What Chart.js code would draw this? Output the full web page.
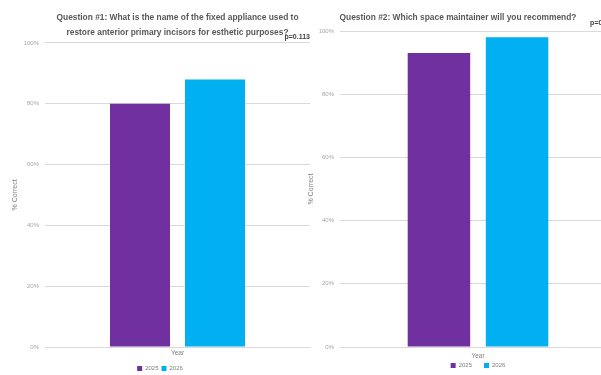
<!DOCTYPE html>
<html>
<head>
<meta charset="utf-8">
<script src="https://cdn.jsdelivr.net/npm/chart.js@4"></script>
<style>
  html, body { margin: 0; padding: 0; background: #fff; overflow: hidden; }
  body { width: 601px; height: 375px; position: relative; }
  .box { position: absolute; top: 0; height: 375px; }
  #leftBox { left: 0; width: 320px; }
  #rightBox { left: 300px; width: 320px; }
</style>
</head>
<body>
<div class="box" id="leftBox"><canvas id="q1Chart"></canvas></div>
<div class="box" id="rightBox"><canvas id="q2Chart"></canvas></div>
<script>
// data
var years = ["2025", "2026"];
var categories = [""];
var q1Values = [80, 88];
var q2Values = [93, 98];
var yTicks = [0, 20, 40, 60, 80, 100];

var q1Title = ["Question #1: What is the name of the fixed appliance used to",
               "restore anterior primary incisors for esthetic purposes?"];
var q2Title = "Question #2: Which space maintainer will you recommend?";
var q1P = "p=0.113";
var q2P = "p=0.155";

var colors = ["#7030A0", "#00B0F0"];
var fontFam = "'Liberation Sans', Arial, sans-serif";

function makeData(values) {
    return {
        labels: categories,
        datasets: years.map(function (y, i) {
            return {
                label: y,
                data: [values[i]],
                backgroundColor: colors[i],
                borderWidth: 0,
                barPercentage: 0.8,
                categoryPercentage: 0.566
            };
        })
    };
}

function makeOptions(o) {
    return {
        responsive: true,
        maintainAspectRatio: false,
        animation: false,
        devicePixelRatio: 1,
        layout: { padding: { left: o.padLeft, right: o.padRight, top: 0, bottom: o.padBottom } },
        scales: {
            x: {
                grid: { display: false },
                border: { color: "#d9d9d9", width: 1 },
                ticks: { display: false },
                title: { display: true, text: "Year", color: "#7f7f7f", font: { family: fontFam, size: 6.5 }, padding: { top: 0, bottom: o.yearPad } },
                afterFit: function (scale) { scale.height = o.xHeight; }
            },
            y: {
                min: 0,
                max: 100,
                afterBuildTicks: function (scale) {
                    scale.ticks = yTicks.map(function (v) { return { value: v }; });
                },
                grid: { color: "#d9d9d9", drawTicks: false },
                border: { display: false },
                ticks: {
                    color: "#a6a6a6",
                    font: { family: fontFam, size: 6 },
                    padding: 6,
                    callback: function (v) { return v + "%"; }
                },
                title: { display: true, text: "% Correct", color: "#7f7f7f", font: { family: fontFam, size: 7 }, padding: { top: o.corrPad, bottom: 0 } },
                afterFit: function (scale) { scale.width = o.yWidth; }
            }
        },
        plugins: {
            title: {
                display: true,
                text: o.title,
                fullSize: o.titleFull,
                color: "#595959",
                font: { family: fontFam, size: 8.4, weight: "bold", lineHeight: "15px" },
                padding: { top: 10.5, bottom: 0 }
            },
            subtitle: {
                display: true,
                text: o.pText,
                align: "end",
                fullSize: o.titleFull,
                color: "#404040",
                font: { family: fontFam, size: 7, weight: "bold" },
                padding: { top: o.pTop, bottom: o.pBottom }
            },
            legend: {
                position: "bottom",
                fullSize: o.legendFull,
                labels: {
                    boxWidth: 5,
                    boxHeight: 5,
                    padding: o.legendPad,
                    color: "#7f7f7f",
                    font: { family: fontFam, size: 6 }
                }
            },
            tooltip: { enabled: false }
        }
    };
}

new Chart(document.getElementById("q1Chart").getContext("2d"), {
    type: "bar",
    data: makeData(q1Values),
    options: makeOptions({
        title: q1Title, pText: q1P, titleFull: false, legendFull: true,
        padLeft: 10, padRight: 10, padBottom: -6.5,
        pTop: -8, pBottom: 2, xHeight: 15.5, yearPad: 5.3,
        yWidth: 35, corrPad: 0.5, legendPad: 3
    })
});

new Chart(document.getElementById("q2Chart").getContext("2d"), {
    type: "bar",
    data: makeData(q2Values),
    options: makeOptions({
        title: q2Title, pText: q2P, titleFull: true, legendFull: false,
        padLeft: 0, padRight: 4, padBottom: -3.5,
        pTop: -6.7, pBottom: 3.8, xHeight: 3.5, yearPad: -9.7,
        yWidth: 40, corrPad: 7, legendPad: 12
    })
});
</script>
</body>
</html>
